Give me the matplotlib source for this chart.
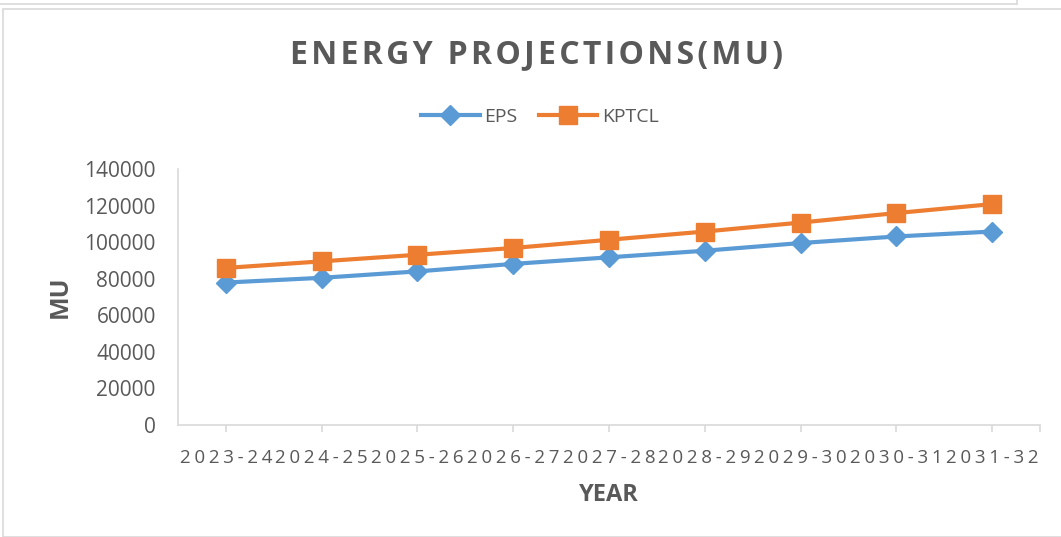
import matplotlib
matplotlib.use("Agg")
import matplotlib.pyplot as plt
from matplotlib.patches import Rectangle
from matplotlib.lines import Line2D

years = ["2023-24", "2024-25", "2025-26", "2026-27", "2027-28",
         "2028-29", "2029-30", "2030-31", "2031-32"]
eps = [77900, 80500, 84000, 88100, 91700, 95300, 99500, 103100, 105800]
kptcl = [85900, 89500, 93100, 96800, 101300, 105800, 110700, 115900, 120800]
yticks = [0, 20000, 40000, 60000, 80000, 100000, 120000, 140000]

plt.rcParams['font.family'] = ['Open Sans', 'DejaVu Sans']
GRAY = '#595959'
BLUE = '#5B9BD5'
ORANGE = '#ED7D31'
AX = '#d9d9d9'

W, H = 1061, 537
fig = plt.figure(figsize=(W / 100, H / 100), dpi=100)

# chart border and strip above
fig.add_artist(Rectangle((3 / W, 0), (W + 10) / W, 1 - 9 / H, transform=fig.transFigure,
                         fill=False, edgecolor=AX, linewidth=1.2))
fig.add_artist(Line2D([0, 1017 / W], [1 - 4 / H, 1 - 4 / H], transform=fig.transFigure,
                      color=AX, linewidth=1.2))
fig.add_artist(Line2D([1017 / W, 1017 / W], [1 - 4 / H, 1], transform=fig.transFigure,
                      color=AX, linewidth=1.2))

ax = fig.add_axes([178 / W, 1 - 425 / H, (1040 - 178) / W, (425 - 169) / H])
x = list(range(len(years)))
ax.plot(x, eps, color=BLUE, linewidth=3, marker='D', markersize=10.5, label='EPS')
ax.plot(x, kptcl, color=ORANGE, linewidth=3, marker='s', markersize=12.5, label='KPTCL')

ax.set_xlim(-0.5, len(years) - 0.5)
ax.set_ylim(0, 140000)
ax.set_yticks(yticks)
ax.set_yticklabels([str(v) for v in yticks], fontsize=15, color=GRAY)
ax.tick_params(axis='y', length=0, pad=16)

hs = '\u200a'
ax.set_xticks(x)
ax.set_xticklabels([(hs * 2).join(y) for y in years], fontsize=13.5, color=GRAY,
                   family=['Open Sans', 'DejaVu Sans'])
ax.tick_params(axis='x', length=5, color=AX, width=1.2, pad=12)
ax.set_xticks([len(years) - 0.5], minor=True)
ax.tick_params(axis='x', which='minor', length=5, color=AX, width=1.2)

for s in ['top', 'right']:
    ax.spines[s].set_visible(False)
for s in ['left', 'bottom']:
    ax.spines[s].set_color(AX)
    ax.spines[s].set_linewidth(1.2)

ax.set_xlabel('YEAR', fontsize=17, fontweight='bold', color=GRAY, labelpad=12)
ax.set_ylabel('MU', fontsize=18, fontweight='bold', color=GRAY, labelpad=8)

title = 'ENERGY PROJECTIONS(MU)'
fig.text(536 / W, 1 - 55 / H, hs.join(title),
         ha='center', va='center', fontsize=23, fontweight='bold', color=GRAY)

ax.legend(loc='center', bbox_to_anchor=(540 / W, 1 - 117 / H), bbox_transform=fig.transFigure,
          ncol=2, frameon=False, fontsize=14, labelcolor=GRAY, handlelength=3,
          columnspacing=1.1, handletextpad=0.25)

fig.savefig('out.png', dpi=100)
